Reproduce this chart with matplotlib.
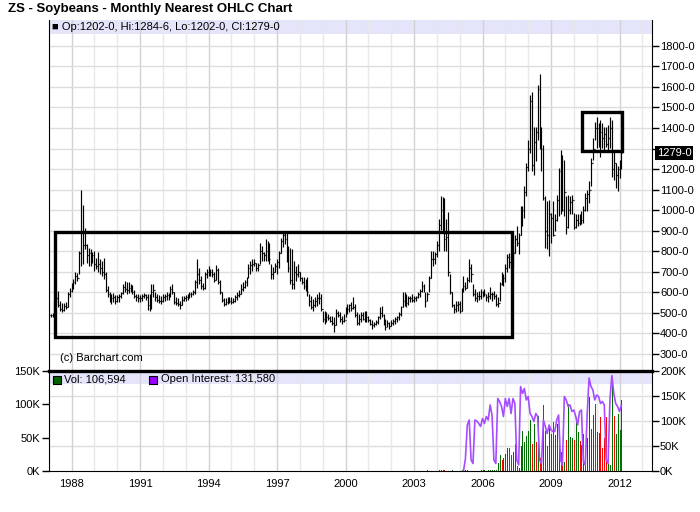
import numpy as np
import matplotlib.pyplot as plt
from matplotlib.patches import Rectangle
from matplotlib.transforms import blended_transform_factory

plt.rcParams['font.family'] = ['Liberation Sans', 'DejaVu Sans']

# monthly nearest soybean futures (cents/bu)
# first bar is Feb 1987, last bar is Feb 2012
highs = [
    495, 500, 560, 600, 608, 560, 548, 548, 555, 600, 620,                 # 1987
    645, 665, 697, 692, 802, 1096, 1023, 915, 834, 818, 810, 794,          # 1988
    802, 769, 794, 761, 753, 769, 700, 632, 600, 592, 595, 585,            # 1989
    585, 590, 600, 640, 656, 650, 648, 640, 635, 610, 592, 590,            # 1990
    585, 590, 595, 592, 590, 592, 640, 640, 600, 590, 585, 580,            # 1991
    590, 590, 600, 595, 630, 640, 600, 575, 570, 560, 580, 580,            # 1992
    585, 590, 600, 600, 610, 660, 760, 720, 680, 645, 700, 715,            # 1993
    730, 715, 715, 700, 735, 720, 660, 600, 570, 570, 575, 575,            # 1994
    575, 570, 585, 600, 610, 640, 648, 660, 673, 737, 753, 761,            # 1995
    761, 745, 745, 842, 826, 794, 858, 850, 842, 737, 721, 745,            # 1996
    761, 800, 864, 900, 900, 890, 826, 818, 810, 753, 729, 737,            # 1997
    697, 673, 673, 665, 673, 592, 584, 568, 576, 592, 600, 592,            # 1998
    511, 511, 503, 495, 487, 487, 479, 519, 511, 503, 487, 495,            # 1999
    527, 544, 544, 552, 576, 544, 503, 495, 503, 503, 511, 511,            # 2000
    487, 471, 463, 455, 463, 487, 527, 535, 495, 471, 463, 455,            # 2001
    465, 470, 480, 487, 503, 535, 600, 600, 592, 584, 584, 592,            # 2002
    584, 584, 600, 616, 656, 640, 600, 600, 681, 802, 802, 794,            # 2003
    850, 955, 1068, 1064, 1060, 955, 990, 690, 600, 545, 560, 560,         # 2004
    560, 620, 680, 650, 673, 761, 737, 640, 616, 600, 608, 616,            # 2005
    608, 616, 592, 600, 624, 600, 608, 592, 576, 648, 697, 689,            # 2006
    740, 785, 790, 780, 800, 880, 923, 890, 1019, 1019, 1116, 1229,        # 2007
    1342, 1560, 1576, 1406, 1406, 1608, 1664, 1406, 1318, 1068, 1043, 1052,  # 2008
    987, 1043, 979, 1076, 1205, 1294, 1269, 1245, 1068, 1076, 1068, 1076,  # 2009
    987, 979, 979, 979, 995, 1019, 1084, 1100, 1140, 1253, 1350, 1430,     # 2010
    1455, 1423, 1439, 1423, 1406, 1406, 1414, 1455, 1439, 1285, 1229, 1213,  # 2011
    1245, 1284.75,                                                         # 2012
]
lows = [
    478, 482, 495, 545, 527, 511, 506, 511, 519, 527, 576,
    600, 616, 640, 656, 689, 729, 737, 810, 745, 729, 729, 745,
    705, 713, 697, 689, 681, 665, 600, 576, 552, 545, 555, 545,
    552, 555, 570, 590, 600, 590, 595, 600, 590, 570, 560, 555,
    555, 560, 570, 565, 515, 511, 519, 576, 560, 555, 550, 545,
    555, 560, 565, 565, 575, 590, 545, 540, 535, 520, 540, 560,
    560, 565, 570, 575, 585, 590, 620, 640, 615, 610, 615, 670,
    680, 680, 675, 650, 660, 640, 590, 555, 535, 540, 545, 550,
    545, 550, 555, 565, 575, 590, 605, 620, 632, 670, 690, 705,
    729, 705, 705, 740, 753, 753, 753, 753, 740, 665, 665, 697,
    690, 720, 790, 820, 835, 750, 700, 640, 616, 616, 656, 673,
    656, 640, 616, 608, 584, 535, 519, 511, 527, 535, 544, 511,
    455, 447, 455, 463, 455, 439, 406, 439, 479, 455, 447, 455,
    479, 495, 503, 511, 519, 479, 439, 439, 455, 463, 455, 455,
    455, 439, 423, 431, 439, 447, 471, 479, 439, 415, 431, 423,
    435, 440, 447, 455, 463, 487, 530, 535, 530, 540, 555, 555,
    552, 560, 570, 576, 600, 600, 527, 560, 600, 670, 729, 740,
    770, 800, 905, 900, 802, 800, 680, 592, 530, 500, 503, 510,
    500, 510, 600, 610, 620, 648, 650, 584, 560, 552, 565, 568,
    576, 584, 560, 555, 568, 560, 568, 535, 527, 560, 635, 632,
    648, 697, 720, 715, 730, 790, 826, 787, 880, 923, 963, 1068,
    1189, 1280, 1189, 1172, 1240, 1342, 1300, 1189, 1050, 818, 810, 777,
    842, 874, 900, 947, 971, 979, 995, 971, 882, 914, 979, 979,
    906, 914, 922, 927, 931, 939, 995, 995, 1035, 1120, 1245, 1342,
    1302, 1310, 1261, 1302, 1294, 1310, 1285, 1302, 1164, 1148, 1108, 1092,
    1156, 1202,
]
closes = [
    488, 495, 550, 570, 540, 520, 515, 535, 530, 590, 605,
    620, 650, 680, 670, 790, 900, 830, 830, 780, 790, 760, 780,
    740, 730, 740, 720, 700, 690, 610, 590, 565, 570, 575, 560,
    575, 580, 595, 625, 615, 610, 620, 610, 600, 580, 575, 570,
    570, 580, 585, 575, 540, 545, 600, 610, 575, 565, 560, 560,
    575, 580, 585, 580, 615, 600, 555, 550, 545, 540, 565, 570,
    575, 580, 590, 590, 600, 650, 690, 660, 630, 620, 690, 700,
    690, 700, 690, 660, 710, 650, 600, 565, 545, 555, 560, 560,
    555, 560, 575, 585, 590, 615, 625, 650, 665, 720, 735, 740,
    745, 720, 735, 800, 790, 780, 800, 810, 760, 690, 700, 730,
    750, 790, 850, 880, 860, 780, 720, 660, 640, 700, 690, 700,
    670, 650, 630, 620, 600, 560, 530, 540, 560, 570, 570, 520,
    470, 470, 480, 475, 460, 450, 440, 500, 490, 470, 460, 465,
    515, 520, 540, 525, 530, 490, 450, 470, 490, 470, 490, 480,
    465, 445, 440, 445, 455, 480, 500, 490, 455, 430, 450, 435,
    450, 460, 470, 480, 495, 530, 560, 570, 550, 570, 570, 565,
    570, 575, 590, 605, 630, 620, 560, 590, 670, 760, 760, 785,
    830, 930, 1000, 990, 860, 870, 700, 600, 540, 520, 540, 545,
    510, 600, 630, 620, 660, 720, 690, 590, 570, 580, 580, 600,
    590, 590, 575, 580, 590, 590, 580, 545, 550, 640, 680, 670,
    720, 770, 750, 740, 790, 860, 840, 880, 980, 1000, 1090, 1210,
    1300, 1530, 1220, 1330, 1380, 1590, 1380, 1300, 1060, 900, 880, 980,
    960, 880, 950, 1050, 1190, 1220, 1000, 1090, 920, 1000, 1040, 1050,
    920, 950, 940, 960, 950, 1000, 1060, 1080, 1100, 1230, 1300, 1400,
    1400, 1370, 1380, 1350, 1370, 1320, 1350, 1400, 1200, 1230, 1170, 1200,
    1202, 1279,
]
first_open = 490

# volume (thousands), monthly from Aug 2003; 1 = up month, 0 = down month
volume = [
    2, 0, 0, 0, 0,
    0, 2, 2, 2, 2, 0, 0, 0, 2, 0, 0, 0,
    0, 2, 2, 2, 2, 0, 0, 0, 0, 0, 0, 2,
    2, 2, 0, 2, 2, 2, 2, 2, 12.5, 24, 16.5, 19,
    26, 34, 34, 24, 28, 41, 8, 5, 38, 60, 44, 53,
    60, 76, 41, 70, 44, 82, 19, 14, 99, 60, 37, 69,
    56, 74, 54, 70, 46, 29, 11, 14, 46, 101, 51, 49,
    46, 81, 59, 45, 39, 56, 11, 49, 111, 63, 84, 100,
    58, 57, 81, 34, 50, 81, 11, 9, 131, 82, 56, 85,
    61, 106.594,
]
vol_up = [
    1, 1, 1, 1, 1,
    1, 1, 1, 0, 0, 1, 1, 1, 1, 1, 1, 1,
    1, 1, 1, 1, 0, 1, 1, 1, 1, 1, 1, 1,
    1, 1, 1, 1, 1, 1, 1, 1, 1, 1, 0, 1,
    1, 1, 0, 0, 1, 1, 0, 1, 1, 1, 1, 1,
    1, 1, 0, 1, 0, 1, 0, 0, 0, 0, 0, 1,
    1, 0, 1, 1, 1, 0, 0, 1, 0, 1, 1, 1,
    0, 1, 1, 0, 0, 1, 0, 1, 1, 1, 1, 0,
    1, 1, 0, 0, 0, 0, 1, 1, 1, 0, 1, 1,
    1, 1,
]
# open interest (thousands), monthly from Mar 2005
open_interest = [
    0, 24, 92, 102, 22, 15, 102, 100, 95, 89,
    105, 95, 109, 102, 132, 112, 22, 15, 145, 139,
    129, 109, 145, 129, 145, 115, 145, 135, 22, 12,
    169, 155, 165, 142, 149, 115, 109, 99, 115, 109,
    22, 15, 102, 89, 75, 92, 82, 79, 79, 102,
    112, 22, 12, 149, 142, 129, 132, 119, 122, 109,
    92, 119, 122, 19, 12, 112, 186, 169, 162, 142,
    152, 149, 135, 139, 132, 22, 15, 145, 191, 155,
    135, 129, 119, 131.58,
]

# hand-drawn boxes: (start year, end year, low price, high price)
box_range = (1987.29, 2007.29, 383, 893)
box_recent = (2010.34, 2012.09, 1290, 1479)

year_labels = list(range(1988, 2013, 3))
price_ticks = list(range(300, 1900, 100))


def fmt8(v):
    whole = int(v)
    return f"{whole}-{int(round((v - whole) * 8))}"


t = 1987 + 1 / 12 + np.arange(len(closes)) / 12
opens = [first_open] + closes[:-1]
tv = 2003 + 7 / 12 + np.arange(len(volume)) / 12
toi = 2005 + 2 / 12 + np.arange(len(open_interest)) / 12

fig = plt.figure(figsize=(7, 5.12), dpi=100)
ax = fig.add_axes([48.7 / 700, 141 / 512, 603 / 700, 351 / 512])
ax2 = fig.add_axes([48.7 / 700, 41 / 512, 603 / 700, 100 / 512], sharex=ax)

grid_major = '#d2d2d2'
grid_minor = '#e8e8e8'
band = '#e4e4fb'

# ---- price panel
ax.set_xlim(1987.04, 2013.41)
ax.set_ylim(217, 1926)
ax.set_axisbelow(True)
ax.set_xticks(year_labels)
ax.set_xticks(range(1987, 2014), minor=True)
ax.grid(axis='x', which='major', color=grid_major, lw=1)
ax.grid(axis='x', which='minor', color=grid_minor, lw=1)
ax.set_yticks(price_ticks)
# the last-price tag sits over the 1300 label, as on the original
ax.set_yticklabels(['' if abs(v - closes[-1]) < 50 else f"{v}-0"
                    for v in price_ticks])
ax.grid(axis='y', which='major', color='#dddddd', lw=1)
ax.yaxis.tick_right()
ax.tick_params(axis='y', direction='out', length=5, width=1, labelsize=8, pad=1)
ax.tick_params(axis='x', which='both', length=0, labelbottom=False)
ax.axhspan(1858, 1926, color=band, zorder=0.2, lw=0)
for s in ['top', 'bottom']:
    ax.spines[s].set_visible(False)

ax.vlines(t, lows, highs, color='k', lw=0.85, zorder=3)
ax.hlines(opens, t - 0.035, t, color='k', lw=0.85, zorder=3)
ax.hlines(closes, t, t + 0.035, color='k', lw=0.85, zorder=3)

for x0, x1, y0, y1 in [box_range, box_recent]:
    ax.add_patch(Rectangle((x0, y0), x1 - x0, y1 - y0, fill=False,
                           ec='k', lw=2.4, zorder=4))

hdr = (f"■ Op:{fmt8(opens[-1])}, Hi:{fmt8(highs[-1])}, "
       f"Lo:{fmt8(lows[-1])}, Cl:{fmt8(closes[-1])}")
ax.text(0.0055, 0.980, hdr, transform=ax.transAxes, fontsize=8, va='center')
ax.text(0.0187, 0.038, '(c) Barchart.com', transform=ax.transAxes,
        fontsize=8, va='center')
tr = blended_transform_factory(ax.transAxes, ax.transData)
ax.text(1.0085, closes[-1], fmt8(closes[-1]), transform=tr, color='white',
        fontsize=8, va='center', ha='left',
        bbox=dict(fc='black', ec='none', pad=1.2))

# ---- volume / open interest panel
ax2.set_ylim(0, 150)
ax2.set_axisbelow(True)
ax2.grid(axis='x', which='major', color=grid_major, lw=1)
ax2.grid(axis='x', which='minor', color=grid_minor, lw=1)
oi_ticks = [0, 50, 100, 150, 200]
for v in oi_ticks[1:-1]:
    ax2.axhline(v * 150 / 200, color='#dddddd', lw=1, zorder=0.5)
ax2.axhspan(174 * 150 / 200, 150, color=band, zorder=0.2, lw=0)
ax2.set_yticks([0, 50, 100, 150])
ax2.set_yticklabels(['0K', '50K', '100K', '150K'])
ax2.tick_params(axis='y', direction='out', length=5, width=1, labelsize=8, pad=1)
ax2.set_xticklabels([str(y) for y in year_labels])
ax2.tick_params(axis='x', which='both', length=0, labelsize=8, pad=6)
ax2.spines['top'].set_linewidth(2.4)

vcol = ['#007000' if u else '#ff0000' for u in vol_up]
ax2.vlines(tv, 0, volume, colors=vcol, lw=0.5, antialiased=False, zorder=2)

ax2r = ax2.twinx()
ax2r.set_ylim(0, 200)
ax2r.set_yticks(oi_ticks)
ax2r.set_yticklabels([f"{v}K" for v in oi_ticks])
ax2r.tick_params(axis='y', direction='out', length=5, width=1, labelsize=8, pad=1)
for s in ax2r.spines.values():
    s.set_visible(False)
ax2r.plot(toi, open_interest, color='#a64dff', lw=1.2)

ax2.scatter([0.0138], [0.915], s=30, marker='s', c='#006400', edgecolors='k',
            linewidths=0.8, transform=ax2.transAxes, clip_on=False, zorder=5)
ax2.text(0.0254, 0.915, f"Vol: {volume[-1] * 1000:,.0f}", transform=ax2.transAxes,
         fontsize=8, va='center')
ax2.scatter([0.173], [0.915], s=30, marker='s', c='#9900ff', edgecolors='k',
            linewidths=0.8, transform=ax2.transAxes, clip_on=False, zorder=5)
ax2.text(0.186, 0.915, f"Open Interest: {open_interest[-1] * 1000:,.0f}",
         transform=ax2.transAxes, fontsize=8, va='center')

fig.text(8 / 700, 1 - 9 / 512, 'ZS - Soybeans - Monthly Nearest OHLC Chart',
         fontsize=9.5, fontweight='bold', va='center')

fig.savefig('out.png', dpi=100)
